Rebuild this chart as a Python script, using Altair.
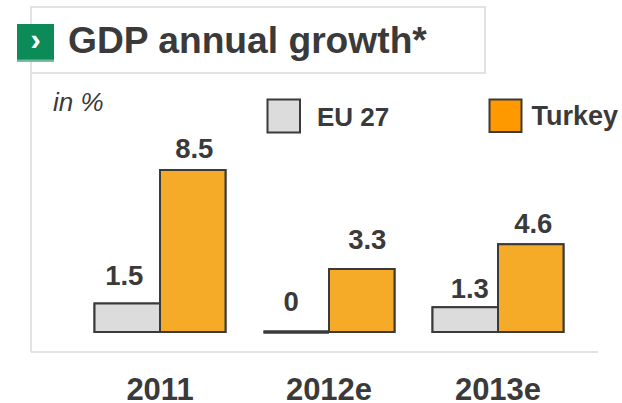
import altair as alt
import pandas as pd

# Growth figures in percent
years = ["2011", "2012e", "2013e"]
eu27 = [1.5, 0, 1.3]
turkey = [8.5, 3.3, 4.6]
series_names = ["EU 27", "Turkey"]

FONT = "Liberation Sans"
INK = "#3a3a3a"
FRAME = "#e2e2e2"
BAR_COLORS = ["#dcdcdc", "#f5aa28"]

rows = []
for i, year in enumerate(years):
    rows.append({"year": year, "series": series_names[0], "value": eu27[i]})
    rows.append({"year": year, "series": series_names[1], "value": turkey[i]})
data = pd.DataFrame(rows)

x_scale = alt.Scale(domain=years, range=[75.5, 582.5], paddingInner=0.225, paddingOuter=0.1125)
y_scale = alt.Scale(domain=[0, 10], range=[332, 141.4])
off_scale = alt.Scale(domain=series_names)

x_enc = alt.X("year:N", scale=x_scale, sort=years,
              axis=alt.Axis(title=None, domain=False, ticks=False, labelAngle=0,
                            labelFont=FONT, labelFontSize=31, labelFontWeight="bold",
                            labelColor=INK, labelPadding=23.5))

bars = alt.Chart(data).mark_bar(stroke=INK, opacity=1).encode(
    x=x_enc,
    xOffset=alt.XOffset("series:N", scale=off_scale, sort=series_names),
    y=alt.Y("value:Q", scale=y_scale, axis=None),
    color=alt.Color("series:N", scale=alt.Scale(domain=series_names, range=BAR_COLORS), legend=None),
    # a zero-height bar is only its outline, so it gets a heavier stroke
    strokeWidth=alt.condition("datum.value === 0", alt.value(3), alt.value(2)),
)

# Per-label nudges keep the values clear of neighbouring bars
nudges = {
    ("2011", "EU 27"): (-3, -18), ("2011", "Turkey"): (1.5, -12),
    ("2012e", "EU 27"): (-5, -21), ("2012e", "Turkey"): (5.5, -20),
    ("2013e", "EU 27"): (4.5, -9), ("2013e", "Turkey"): (2.5, -11),
}
labels = []
for (year, series), (dx, dy) in nudges.items():
    subset = data[(data.year == year) & (data.series == series)]
    labels.append(
        alt.Chart(subset).mark_text(
            font=FONT, fontSize=27.5, fontWeight="bold", color=INK,
            baseline="alphabetic", dx=dx, dy=dy,
        ).encode(
            x=x_enc,
            xOffset=alt.XOffset("series:N", scale=off_scale, sort=series_names),
            y=alt.Y("value:Q", scale=y_scale, axis=None),
            text=alt.Text("value:Q", format="~g"),
        )
    )

one = pd.DataFrame({"a": [0]})

def box(x0, x1, y0, y1, **style):
    return alt.Chart(one).mark_rect(**style).encode(
        x=alt.value(x0), x2=alt.value(x1), y=alt.value(y0), y2=alt.value(y1))

def line(x0, x1, y0, y1):
    return alt.Chart(one).mark_rule(color=FRAME, strokeWidth=2).encode(
        x=alt.value(x0), x2=alt.value(x1), y=alt.value(y0), y2=alt.value(y1))

def caption(text, x, y, size, **style):
    return alt.Chart(one).mark_text(
        text=text, font=FONT, fontSize=size, color=INK, align="left",
        baseline="alphabetic", **style
    ).encode(x=alt.value(x), y=alt.value(y))

frame = [
    line(31, 31, 7, 352),
    line(31, 598, 352, 352),
    box(31, 485, 7, 73, fill="white", stroke=FRAME, strokeWidth=2),
]
badge = [
    box(17, 54, 24, 61.5, fill="#0c8a58"),
    box(17, 54, 59.5, 61.5, fill="#6dbb9b"),
    alt.Chart(one).mark_text(text="›", font=FONT, fontSize=32, fontWeight="bold",
                             color="white", align="center", baseline="middle").encode(
        x=alt.value(35.5), y=alt.value(40)),
]
header = [
    caption("GDP annual growth*", 68, 53, 37.2, fontWeight="bold"),
    caption("in %", 53, 111, 26, fontStyle="italic"),
]
legend = [
    box(267.5, 300, 99.5, 132.5, fill=BAR_COLORS[0], stroke=INK, strokeWidth=2),
    caption(series_names[0], 317, 126, 26, fontWeight="bold"),
    box(489.5, 521.5, 99.5, 132, fill="#ff9900", stroke=INK, strokeWidth=2),
    caption(series_names[1], 531.5, 125, 27, fontWeight="bold"),
]

chart = alt.layer(bars, *frame, *badge, *header, *legend, bars, *labels).resolve_scale(
    color="shared"
).properties(
    width=622, height=352,
    padding={"left": 0, "right": 0, "top": 0, "bottom": 51},
    autosize=alt.AutoSizeParams(type="none"),
    background="white",
).configure_view(stroke=None)

chart.save("out.html", embed_options={"renderer": "svg", "actions": False})
